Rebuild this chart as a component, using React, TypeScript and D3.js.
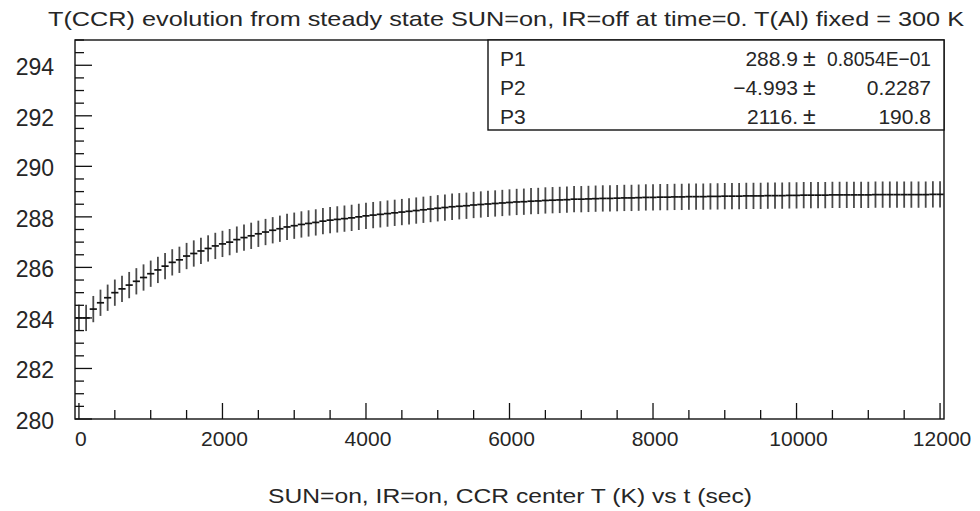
import React from "react";
import * as d3 from "d3";

const W = 980;
const H = 511;

// Time samples (sec)
const times: number[] = [
  0, 100, 200, 300, 400, 500, 600, 700, 800, 900,
  1000, 1100, 1200, 1300, 1400, 1500, 1600, 1700, 1800, 1900,
  2000, 2100, 2200, 2300, 2400, 2500, 2600, 2700, 2800, 2900,
  3000, 3100, 3200, 3300, 3400, 3500, 3600, 3700, 3800, 3900,
  4000, 4100, 4200, 4300, 4400, 4500, 4600, 4700, 4800, 4900,
  5000, 5100, 5200, 5300, 5400, 5500, 5600, 5700, 5800, 5900,
  6000, 6100, 6200, 6300, 6400, 6500, 6600, 6700, 6800, 6900,
  7000, 7100, 7200, 7300, 7400, 7500, 7600, 7700, 7800, 7900,
  8000, 8100, 8200, 8300, 8400, 8500, 8600, 8700, 8800, 8900,
  9000, 9100, 9200, 9300, 9400, 9500, 9600, 9700, 9800, 9900,
  10000, 10100, 10200, 10300, 10400, 10500, 10600, 10700, 10800, 10900,
  11000, 11100, 11200, 11300, 11400, 11500, 11600, 11700, 11800, 11900,
  12000,
];

// CCR centre temperature (K)
const temps: number[] = [
  284.0, 284.0, 284.35, 284.6, 284.8, 285.0, 285.15, 285.3, 285.45, 285.6,
  285.75, 285.9, 286.05, 286.2, 286.3, 286.45, 286.55, 286.65, 286.75, 286.85,
  286.93, 287.0, 287.1, 287.18, 287.25, 287.33, 287.4, 287.47, 287.53, 287.6,
  287.65, 287.7, 287.74, 287.78, 287.83, 287.87, 287.9, 287.93, 287.96, 288.0,
  288.04, 288.07, 288.1, 288.13, 288.16, 288.19, 288.22, 288.25, 288.28, 288.31,
  288.34, 288.37, 288.4, 288.42, 288.44, 288.47, 288.49, 288.51, 288.53, 288.55,
  288.57, 288.59, 288.6, 288.62, 288.63, 288.65, 288.66, 288.67, 288.68, 288.7,
  288.7, 288.71, 288.72, 288.73, 288.73, 288.74, 288.75, 288.75, 288.76, 288.77,
  288.77, 288.78, 288.78, 288.79, 288.79, 288.8, 288.8, 288.8, 288.81, 288.81,
  288.82, 288.82, 288.82, 288.83, 288.83, 288.83, 288.84, 288.84, 288.84, 288.85,
  288.85, 288.86, 288.86, 288.86, 288.86, 288.87, 288.87, 288.87, 288.87, 288.87,
  288.87, 288.88, 288.88, 288.88, 288.88, 288.88, 288.88, 288.88, 288.88, 288.89,
  288.89,
];

const tempErr = 0.52; // half-height of the vertical error bars (K)
const timeErr = 50; // half-width of the horizontal error bars (sec)

const xMajorTicks: number[] = [0, 2000, 4000, 6000, 8000, 10000, 12000];
const yMajorTicks: number[] = [280, 282, 284, 286, 288, 290, 292, 294];

const fitNames: string[] = ["P1", "P2", "P3"];
const fitValues: string[] = ["288.9", "\u22124.993", "2116."];
const fitErrors: string[] = ["0.8054E\u221201", "0.2287", "190.8"];

const title =
  "T(CCR) evolution from steady state SUN=on, IR=off at time=0. T(Al) fixed = 300 K";
const xTitle = "SUN=on, IR=on, CCR center T (K) vs t (sec)";

const FONT = "'Liberation Sans', Arial, sans-serif";
const TXT = "#262626";

export default function App() {
  const left = 75;
  const right = 944;
  const top = 40;
  const bottom = 419;

  const x = d3.scaleLinear().domain([-55, 12055]).range([left, right]);
  const y = d3.scaleLinear().domain([280, 295]).range([bottom, top]);

  const xMinor = d3.range(0, 12001, 500);
  const yMinor = d3.range(280, 295.01, 0.5);

  const boxLeft = 488;
  const boxBottom = 130;
  const rowBase = [66, 95, 124];

  return (
    <svg
      width={W}
      height={H}
      style={{ position: "absolute", left: 0, top: 0, background: "#fff" }}
      fontFamily={FONT}
    >
      <rect x={0} y={0} width={W} height={H} fill="#fff" />

      {/* title */}
      <text
        x={506}
        y={26}
        textAnchor="middle"
        fontSize={21}
        fill={TXT}
        textLength={916}
        lengthAdjust="spacingAndGlyphs"
      >
        {title}
      </text>

      {/* data: error bars */}
      <g>
        {times.map((t, i) => (
          <line
            key={"v" + i}
            x1={x(t)}
            x2={x(t)}
            y1={y(temps[i] - tempErr)}
            y2={y(temps[i] + tempErr)}
            stroke="#4a4a4a"
            strokeWidth={1.8}
          />
        ))}
        {times.map((t, i) => (
          <line
            key={"h" + i}
            x1={x(Math.max(t - timeErr, -55))}
            x2={x(t + timeErr)}
            y1={y(temps[i])}
            y2={y(temps[i])}
            stroke="#111"
            strokeWidth={1.7}
          />
        ))}
      </g>

      {/* y ticks */}
      {yMinor.map((v) => {
        const major = Math.abs(v - Math.round(v / 2) * 2) < 1e-6;
        return (
          <line
            key={"yt" + v}
            x1={left}
            x2={left + (major ? 17 : 9)}
            y1={y(v)}
            y2={y(v)}
            stroke="#111"
            strokeWidth={1.3}
          />
        );
      })}
      {yMajorTicks.map((v) => (
        <text
          key={"yl" + v}
          x={54}
          y={y(v) + 10}
          textAnchor="end"
          fontSize={23}
          fill={TXT}
        >
          {v}
        </text>
      ))}

      {/* x ticks */}
      {xMinor.map((v) => {
        const major = v % 2000 === 0;
        return (
          <line
            key={"xt" + v}
            x1={x(v)}
            x2={x(v)}
            y1={bottom}
            y2={bottom - (major ? 16 : 9)}
            stroke="#111"
            strokeWidth={1.3}
          />
        );
      })}
      {xMajorTicks.map((v) => (
        <text
          key={"xl" + v}
          x={x(v) + 2}
          y={446}
          textAnchor="middle"
          fontSize={21}
          fill={TXT}
        >
          {v}
        </text>
      ))}

      {/* frame */}
      <rect
        x={left}
        y={top}
        width={right - left}
        height={bottom - top}
        fill="none"
        stroke="#111"
        strokeWidth={1.4}
      />

      {/* fit stats box */}
      <rect
        x={boxLeft}
        y={top}
        width={right - boxLeft}
        height={boxBottom - top}
        fill="#fff"
        stroke="#111"
        strokeWidth={1.4}
      />
      {fitNames.map((n, i) => (
        <g key={"fit" + i}>
          <text x={500} y={rowBase[i]} fontSize={21} fill={TXT}>
            {n}
          </text>
          <text
            x={798}
            y={rowBase[i]}
            textAnchor="end"
            fontSize={21}
            fill={TXT}
          >
            {fitValues[i]}
          </text>
          <text x={803} y={rowBase[i]} fontSize={23} fill={TXT}>
            {"\u00b1"}
          </text>
          <text
            x={931}
            y={rowBase[i]}
            textAnchor="end"
            fontSize={21}
            fill={TXT}
            textLength={i === 0 ? 104 : undefined}
            lengthAdjust="spacingAndGlyphs"
          >
            {fitErrors[i]}
          </text>
        </g>
      ))}

      {/* x axis title */}
      <text
        x={510}
        y={503}
        textAnchor="middle"
        fontSize={20}
        fill={TXT}
        textLength={484}
        lengthAdjust="spacingAndGlyphs"
      >
        {xTitle}
      </text>
    </svg>
  );
}
